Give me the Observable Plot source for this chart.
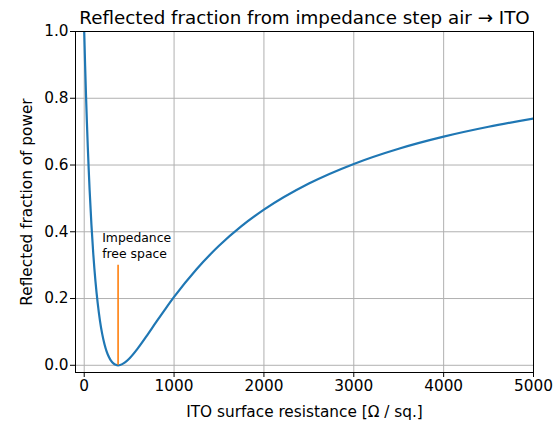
<!DOCTYPE html>
<html>
<head>
<meta charset="utf-8">
<script src="https://cdn.jsdelivr.net/npm/d3@7"></script>
<script src="https://cdn.jsdelivr.net/npm/@observablehq/plot@0.6"></script>
<style>
  html, body { margin: 0; padding: 0; background: white; }
</style>
</head>
<body>
<div id="chart"></div>
<script>
// Surface resistance (Ω / sq.) and read reflected fraction of power
const resistance = [0, 10, 20, 30, 40, 50, 60, 80, 100, 125, 150, 175, 200, 225, 250, 275, 300, 325, 350, 377, 400, 450, 500, 600, 700, 800, 900, 1000, 1250, 1500, 1750, 2000, 2500, 3000, 3500, 4000, 4500, 5000];
const reflected = [1.000, 0.899, 0.809, 0.727, 0.653, 0.587, 0.526, 0.422, 0.337, 0.252, 0.186, 0.134, 0.094, 0.064, 0.041, 0.025, 0.013, 0.0055, 0.0014, 0.000, 0.0009, 0.0078, 0.0197, 0.0521, 0.0899, 0.1292, 0.1675, 0.2047, 0.2879, 0.3580, 0.4167, 0.4662, 0.5445, 0.6033, 0.6489, 0.6851, 0.7147, 0.7393];

const freeSpaceImpedance = [377];
const markerTop = [0.3];
const annotationX = [200];
const annotationY = [0.32];
const annotationText = ["Impedance\nfree space"];

const xTicks = [0, 1000, 2000, 3000, 4000, 5000];
const yTicks = [0.0, 0.2, 0.4, 0.6, 0.8, 1.0];

const titleText = "Reflected fraction from impedance step air \u2192 ITO";
const xLabel = "ITO surface resistance [\u03A9 / sq.]";
const yLabel = "Reflected fraction of power";

const data = resistance.map((r, i) => ({r, R: reflected[i]}));

const chart = Plot.plot({
  width: 559,
  height: 425,
  marginLeft: 75,
  marginRight: 26,
  marginTop: 31,
  marginBottom: 53,
  style: {fontFamily: "DejaVu Sans", fontSize: "15px", background: "white", color: "black"},
  x: {domain: [-97, 5000]},
  y: {domain: [-0.0216, 1.0]},
  marks: [
    Plot.gridX(xTicks, {stroke: "#b0b0b0", strokeOpacity: 1, strokeWidth: 1}),
    Plot.gridY(yTicks, {stroke: "#b0b0b0", strokeOpacity: 1, strokeWidth: 1}),
    Plot.line(data, {x: "r", y: "R", stroke: "#1f77b4", strokeWidth: 2.2, curve: "monotone-x", clip: true}),
    Plot.ruleX(freeSpaceImpedance, {x: d => d, y1: 0, y2: markerTop[0], stroke: "#ff7f0e", strokeWidth: 1.6}),
    Plot.text(annotationText, {x: annotationX, y: annotationY, text: d => d, textAnchor: "start", lineAnchor: "bottom", lineHeight: 1.3, fontSize: 12.4, fill: "black"}),
    Plot.frame({stroke: "black", strokeWidth: 1}),
    Plot.axisX(xTicks, {tickSize: 5, tickPadding: 3, fontSize: 15.3, label: null, tickFormat: d => String(d), stroke: "black", fill: "black"}),
    Plot.axisY(yTicks, {tickSize: 5, tickPadding: 2, fontSize: 15.3, label: null, tickFormat: d3.format(".1f"), stroke: "black", fill: "black"}),
    Plot.text([titleText], {frameAnchor: "top", dy: -8, lineAnchor: "bottom", fontSize: 18.3, fill: "black"}),
    Plot.text([xLabel], {frameAnchor: "bottom", dy: 44, lineAnchor: "bottom", fontSize: 15.3, fill: "black"}),
    Plot.text([yLabel], {frameAnchor: "left", dx: -48, rotate: -90, textAnchor: "middle", fontSize: 15.3, fill: "black"})
  ]
});
document.getElementById("chart").appendChild(chart);
</script>
</body>
</html>
